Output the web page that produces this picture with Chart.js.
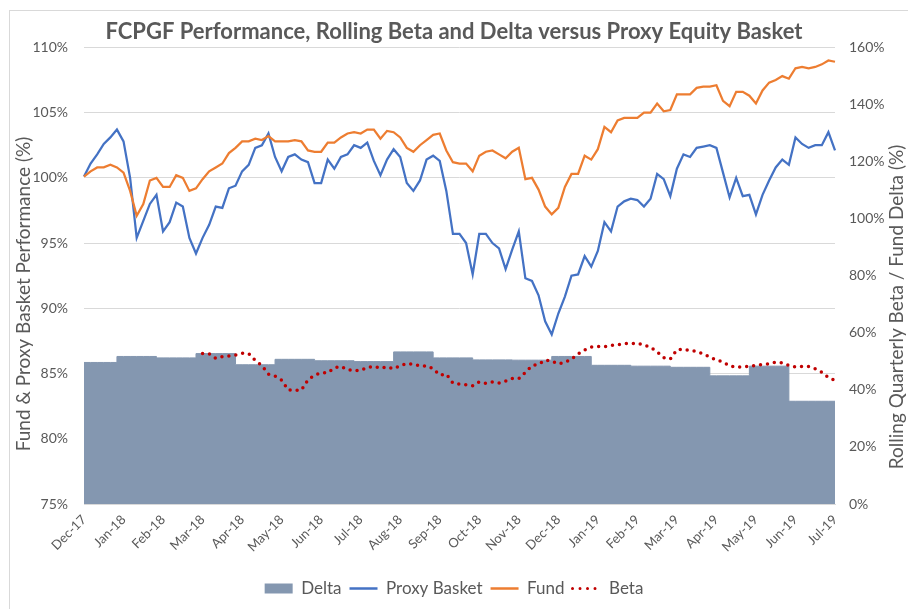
<!DOCTYPE html>
<html>
<head>
<meta charset="utf-8">
<script src="https://cdn.jsdelivr.net/npm/chart.js@4.4.1/dist/chart.umd.min.js"></script>
<style>
  html, body { margin: 0; padding: 0; background: #fff; }
  #wrap { position: relative; width: 908px; height: 609px; overflow: hidden; }
  #frame { position: absolute; left: 9px; top: 10px; width: 1000px; height: 1000px; border: 1px solid #d9d9d9; }
  canvas { position: absolute; left: 0; top: 0; }
</style>
</head>
<body>
<div id="wrap">
  <div id="frame"></div>
  <canvas id="chart" width="908" height="609"></canvas>
</div>
<script>
const months = ["Dec-17", "Jan-18", "Feb-18", "Mar-18", "Apr-18", "May-18", "Jun-18", "Jul-18",
  "Aug-18", "Sep-18", "Oct-18", "Nov-18", "Dec-18", "Jan-19", "Feb-19", "Mar-19", "Apr-19",
  "May-19", "Jun-19", "Jul-19"];
const pointsPerMonth = 6;

const proxyBasket = [
  100.1, 101.1, 101.8, 102.6, 103.1, 103.7, 102.8, 100.0, 95.4, 96.7,
  98.0, 98.7, 95.9, 96.6, 98.1, 97.8, 95.4, 94.2, 95.4, 96.4,
  97.8, 97.7, 99.2, 99.4, 100.5, 101.0, 102.3, 102.5, 103.4, 101.6,
  100.5, 101.6, 101.8, 101.4, 101.2, 99.6, 99.6, 101.4, 100.7, 101.6,
  101.8, 102.5, 102.3, 102.7, 101.3, 100.2,
  101.4, 102.2, 101.6, 99.6, 99.0, 99.8, 101.4, 101.7, 101.3, 99.0,
  95.7, 95.7, 95.0, 92.6, 95.7, 95.7, 95.0, 94.6, 93.0, 94.5,
  95.9, 92.3, 92.1, 91.0, 89.0, 88.0, 89.6, 90.9, 92.5, 92.6,
  94.0, 93.2, 94.4, 96.6, 95.9, 97.8, 98.2, 98.4, 98.3, 97.8,
  98.4, 100.3, 99.9,
  98.6, 100.7, 101.8, 101.6, 102.3, 102.4, 102.5, 102.3, 100.4, 98.5,
  100.0, 98.6, 98.7, 97.2, 98.7, 99.8, 100.8, 101.4, 101.0, 103.1,
  102.6, 102.3, 102.5, 102.5, 103.5, 102.1
];
const fund = [
  100.1, 100.5, 100.8, 100.8, 101.0, 100.8, 100.4, 99.0, 97.1, 98.0,
  99.8, 100.0, 99.3, 99.3, 100.2, 100.0, 99.0, 99.2, 99.9, 100.5,
  100.8, 101.1, 101.9, 102.3, 102.8, 102.8, 103.0, 102.9, 103.2, 102.8,
  102.8, 102.8, 102.9, 102.8, 102.1, 102.0, 102.0, 102.7, 102.7, 103.1,
  103.4, 103.5, 103.4, 103.7, 103.7, 103.0,
  103.6, 103.5, 103.1, 102.3, 102.0, 102.5, 102.9, 103.3, 103.4, 102.1,
  101.2, 101.1, 101.1, 100.5, 101.7, 102.0, 102.1, 101.8, 101.5, 102.0,
  102.3, 99.9, 100.0, 99.1, 97.8, 97.2, 97.7, 99.3, 100.3, 100.3,
  101.7, 101.4, 102.2, 103.9, 103.5, 104.4, 104.6, 104.6, 104.6, 105.0,
  105.0, 105.7, 105.1,
  105.2, 106.4, 106.4, 106.4, 106.9, 107.0, 107.0, 107.1, 105.9, 105.5,
  106.6, 106.6, 106.3, 105.7, 106.7, 107.3, 107.5, 107.8, 107.6, 108.4,
  108.5, 108.4, 108.5, 108.7, 109.0, 108.9
];

// rolling quarterly beta (%), first value at Mar-18
const betaStart = 18;
const beta = [
  52.7, 52.6, 51.0, 51.6, 51.9, 52.2, 52.8, 52.7, 50.3, 48.5,
  45.5, 44.8, 43.4, 40.0, 39.8, 39.9, 43.5, 45.2, 45.9, 46.0,
  47.7, 48.2, 47.1, 46.7, 46.8, 47.8, 48.2, 47.6, 48.1, 47.4,
  48.4, 49.2, 49.0, 48.4, 48.4, 47.4, 45.2, 45.5, 42.4, 42.0,
  41.8, 41.4, 42.8, 42.3, 42.8, 42.4, 43.1, 44.0, 43.9, 46.1,
  48.4, 49.0, 50.4, 50.1, 49.1, 49.6, 50.8, 52.6, 54.0, 55.0,
  55.2, 55.1, 55.6, 55.8, 56.2, 56.2, 56.4, 55.7, 54.9, 53.3,
  51.3, 50.8, 54.0, 54.2, 53.7, 53.5, 52.6, 51.5, 50.4, 49.8,
  48.4, 47.9, 48.1, 48.2, 48.6, 48.9, 49.1, 49.7, 49.5, 48.6,
  48.0, 48.2, 48.2, 47.4, 46.2, 44.3, 43.3
];

// fund delta (%), one value per month Dec-17 .. Jun-19
const deltaByMonth = [49.6, 51.7, 51.2, 52.7, 48.8, 50.7, 50.2, 49.9, 53.3, 51.2,
  50.5, 50.4, 51.7, 48.6, 48.3, 47.9, 44.9, 48.3, 36.0];

const labels = proxyBasket.map((_, i) => i % pointsPerMonth === 0 ? months[i / pointsPerMonth] : "");
const delta = labels.map((_, i) => deltaByMonth[Math.min(Math.floor(i / pointsPerMonth), deltaByMonth.length - 1)]);
const betaData = Array(betaStart).fill(null).concat(beta);

const grey = "#595959";
const font = "Lato, 'Open Sans', sans-serif";
Chart.defaults.font.family = font;
Chart.defaults.color = grey;

// Excel puts the vertical axis titles a bit below the plot centre
const axisTitles = {
  id: "axisTitles",
  afterDraw(chart) {
    const ctx = chart.ctx;
    const drawTitle = (text, x, y) => {
      ctx.save();
      ctx.translate(x, y);
      ctx.rotate(-Math.PI / 2);
      ctx.fillText(text, 0, 0);
      ctx.restore();
    };
    ctx.save();
    ctx.fillStyle = grey;
    ctx.font = "19px " + font;
    ctx.textAlign = "center";
    ctx.textBaseline = "middle";
    drawTitle("Fund & Proxy Basket Performance (%)", 24, 294);
    drawTitle("Rolling Quarterly Beta / Fund Delta (%)", 897, 307);
    ctx.restore();
  }
};

new Chart(document.getElementById("chart"), {
  type: "line",
  data: {
    labels: labels,
    datasets: [
      { label: "Delta", data: delta, yAxisID: "y1", stepped: "after", fill: "origin",
        backgroundColor: "#8497B0", borderColor: "#8497B0", borderWidth: 1, pointRadius: 0, order: 4 },
      { label: "Proxy Basket", data: proxyBasket, yAxisID: "y", borderColor: "#4472C4",
        borderWidth: 2.25, pointRadius: 0, fill: false, order: 3 },
      { label: "Fund", data: fund, yAxisID: "y", borderColor: "#ED7D31",
        borderWidth: 2.25, pointRadius: 0, fill: false, order: 2 },
      { label: "Beta", data: betaData, yAxisID: "y1", borderColor: "#C00000",
        borderWidth: 3.5, borderDash: [0, 7], borderCapStyle: "round", pointRadius: 0, fill: false, order: 1 }
    ]
  },
  options: {
    responsive: false,
    animation: false,
    layout: { padding: { top: 0, left: 0, right: 0, bottom: 2 } },
    plugins: {
      tooltip: { enabled: false },
      title: {
        display: true,
        text: "FCPGF Performance, Rolling Beta and Delta versus Proxy Equity Basket",
        color: grey,
        font: { size: 22, weight: "bold" },
        padding: { top: 19, bottom: 2 }
      },
      legend: {
        position: "bottom",
        labels: {
          usePointStyle: true,
          pointStyleWidth: 28,
          boxHeight: 10,
          padding: 8,
          font: { size: 17 },
          color: grey,
          generateLabels: () => [
            { text: "Delta", fillStyle: "#8497B0", strokeStyle: "#8497B0", lineWidth: 0, pointStyle: "rect", fontColor: grey, datasetIndex: 0 },
            { text: "Proxy Basket", fillStyle: "#4472C4", strokeStyle: "#4472C4", lineWidth: 2.5, pointStyle: "line", fontColor: grey, datasetIndex: 1 },
            { text: "Fund", fillStyle: "#ED7D31", strokeStyle: "#ED7D31", lineWidth: 2.5, pointStyle: "line", fontColor: grey, datasetIndex: 2 },
            { text: "Beta", fillStyle: "#C00000", strokeStyle: "#C00000", lineWidth: 3, lineDash: [0, 7.5], lineCap: "round", pointStyle: "line", fontColor: grey, datasetIndex: 3 }
          ]
        }
      }
    },
    scales: {
      x: {
        grid: { display: false, drawTicks: false },
        border: { display: true, color: "#d9d9d9" },
        ticks: {
          autoSkip: false, minRotation: 45, maxRotation: 45, padding: 8,
          font: { size: 13 }, color: grey,
          callback: (v, i) => labels[i]
        },
        afterFit: s => { s.height = 68; }
      },
      y: {
        position: "left",
        min: 75, max: 110,
        grid: { color: "#d9d9d9", drawTicks: false },
        border: { display: false },
        ticks: { stepSize: 5, padding: 16, font: { size: 14 }, color: grey, callback: v => v + "%" },
        afterFit: s => { s.width = 84; }
      },
      y1: {
        position: "right",
        min: 0, max: 160,
        grid: { drawOnChartArea: false, drawTicks: false },
        border: { display: false },
        ticks: { stepSize: 20, padding: 14, font: { size: 14 }, color: grey, callback: v => v + "%" },
        afterFit: s => { s.width = 73; }
      }
    }
  },
  plugins: [axisTitles]
});
</script>
</body>
</html>
